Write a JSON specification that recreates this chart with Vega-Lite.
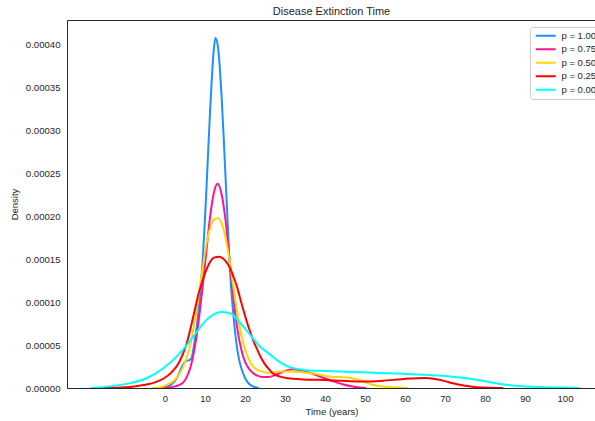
{
  "$schema": "https://vega.github.io/schema/vega-lite/v6.json",
  "autosize": {"type": "none"},
  "padding": {"left": 67, "top": 20, "right": -1, "bottom": 33},
  "width": 529,
  "height": 368,
  "background": "white",
  "config": {
    "font": "Liberation Sans",
    "view": {"stroke": "#262626", "strokeWidth": 1}
  },
  "title": {"text": "Disease Extinction Time", "fontSize": 11, "fontWeight": "normal", "color": "#262626", "offset": 3, "font": "Liberation Sans"},
  "data": {"values": [
    {"p": "p = 1.00", "t": -1.89, "d": 0},
    {"p": "p = 1.00", "t": -0.43, "d": 0.0000005},
    {"p": "p = 1.00", "t": 1.52, "d": 0.0000039},
    {"p": "p = 1.00", "t": 2.98, "d": 0.0000117},
    {"p": "p = 1.00", "t": 4.44, "d": 0.0000264},
    {"p": "p = 1.00", "t": 5.22, "d": 0.0000313},
    {"p": "p = 1.00", "t": 5.9, "d": 0.0000323},
    {"p": "p = 1.00", "t": 6.58, "d": 0.0000343},
    {"p": "p = 1.00", "t": 7.36, "d": 0.0000529},
    {"p": "p = 1.00", "t": 8.34, "d": 0.0000872},
    {"p": "p = 1.00", "t": 9.31, "d": 0.000141},
    {"p": "p = 1.00", "t": 10.28, "d": 0.000224},
    {"p": "p = 1.00", "t": 11.26, "d": 0.000322},
    {"p": "p = 1.00", "t": 12.23, "d": 0.000396},
    {"p": "p = 1.00", "t": 12.6, "d": 0.000408},
    {"p": "p = 1.00", "t": 13.2, "d": 0.000399},
    {"p": "p = 1.00", "t": 14.18, "d": 0.000337},
    {"p": "p = 1.00", "t": 14.66, "d": 0.000293},
    {"p": "p = 1.00", "t": 15.15, "d": 0.000244},
    {"p": "p = 1.00", "t": 15.64, "d": 0.000195},
    {"p": "p = 1.00", "t": 16.13, "d": 0.000146},
    {"p": "p = 1.00", "t": 16.61, "d": 0.000112},
    {"p": "p = 1.00", "t": 17.1, "d": 0.0000852},
    {"p": "p = 1.00", "t": 17.58, "d": 0.0000627},
    {"p": "p = 1.00", "t": 18.07, "d": 0.0000451},
    {"p": "p = 1.00", "t": 18.56, "d": 0.0000323},
    {"p": "p = 1.00", "t": 19.05, "d": 0.0000235},
    {"p": "p = 1.00", "t": 20.02, "d": 0.0000117},
    {"p": "p = 1.00", "t": 20.99, "d": 0.0000049},
    {"p": "p = 1.00", "t": 21.97, "d": 0.0000019},
    {"p": "p = 1.00", "t": 23.43, "d": 0},

    {"p": "p = 0.75", "t": -1.4, "d": 0},
    {"p": "p = 0.75", "t": 0.55, "d": 0.0000004},
    {"p": "p = 0.75", "t": 2.5, "d": 0.0000019},
    {"p": "p = 0.75", "t": 4.44, "d": 0.0000059},
    {"p": "p = 0.75", "t": 5.42, "d": 0.0000127},
    {"p": "p = 0.75", "t": 6.39, "d": 0.0000245},
    {"p": "p = 0.75", "t": 7.36, "d": 0.0000451},
    {"p": "p = 0.75", "t": 8.34, "d": 0.0000754},
    {"p": "p = 0.75", "t": 9.31, "d": 0.000114},
    {"p": "p = 0.75", "t": 10.28, "d": 0.000157},
    {"p": "p = 0.75", "t": 11.26, "d": 0.000199},
    {"p": "p = 0.75", "t": 12.23, "d": 0.000228},
    {"p": "p = 0.75", "t": 13.2, "d": 0.000238},
    {"p": "p = 0.75", "t": 14.18, "d": 0.000225},
    {"p": "p = 0.75", "t": 15.15, "d": 0.000195},
    {"p": "p = 0.75", "t": 16.13, "d": 0.000151},
    {"p": "p = 0.75", "t": 17.1, "d": 0.000105},
    {"p": "p = 0.75", "t": 18.07, "d": 0.0000696},
    {"p": "p = 0.75", "t": 19.05, "d": 0.0000451},
    {"p": "p = 0.75", "t": 20.02, "d": 0.0000304},
    {"p": "p = 0.75", "t": 20.99, "d": 0.0000225},
    {"p": "p = 0.75", "t": 21.97, "d": 0.0000176},
    {"p": "p = 0.75", "t": 22.94, "d": 0.0000147},
    {"p": "p = 0.75", "t": 24.4, "d": 0.0000127},
    {"p": "p = 0.75", "t": 25.86, "d": 0.0000127},
    {"p": "p = 0.75", "t": 27.81, "d": 0.0000157},
    {"p": "p = 0.75", "t": 29.75, "d": 0.0000196},
    {"p": "p = 0.75", "t": 31.9, "d": 0.000022},
    {"p": "p = 0.75", "t": 33.65, "d": 0.000021},
    {"p": "p = 0.75", "t": 35.59, "d": 0.0000186},
    {"p": "p = 0.75", "t": 38.52, "d": 0.0000137},
    {"p": "p = 0.75", "t": 41.44, "d": 0.0000088},
    {"p": "p = 0.75", "t": 44.36, "d": 0.0000044},
    {"p": "p = 0.75", "t": 47.28, "d": 0.0000015},
    {"p": "p = 0.75", "t": 50.25, "d": 0},

    {"p": "p = 0.50", "t": -3.35, "d": 0},
    {"p": "p = 0.50", "t": -1.4, "d": 0.0000005},
    {"p": "p = 0.50", "t": 0.55, "d": 0.0000039},
    {"p": "p = 0.50", "t": 2.5, "d": 0.0000098},
    {"p": "p = 0.50", "t": 4.44, "d": 0.0000235},
    {"p": "p = 0.50", "t": 5.42, "d": 0.0000353},
    {"p": "p = 0.50", "t": 6.39, "d": 0.0000519},
    {"p": "p = 0.50", "t": 7.36, "d": 0.0000754},
    {"p": "p = 0.50", "t": 8.34, "d": 0.000105},
    {"p": "p = 0.50", "t": 9.31, "d": 0.000136},
    {"p": "p = 0.50", "t": 10.28, "d": 0.000166},
    {"p": "p = 0.50", "t": 11.26, "d": 0.000186},
    {"p": "p = 0.50", "t": 12.23, "d": 0.000196},
    {"p": "p = 0.50", "t": 13.2, "d": 0.000198},
    {"p": "p = 0.50", "t": 14.18, "d": 0.000192},
    {"p": "p = 0.50", "t": 15.15, "d": 0.000175},
    {"p": "p = 0.50", "t": 16.13, "d": 0.000149},
    {"p": "p = 0.50", "t": 17.1, "d": 0.000118},
    {"p": "p = 0.50", "t": 18.07, "d": 0.0000872},
    {"p": "p = 0.50", "t": 19.05, "d": 0.0000627},
    {"p": "p = 0.50", "t": 20.02, "d": 0.0000451},
    {"p": "p = 0.50", "t": 20.99, "d": 0.0000333},
    {"p": "p = 0.50", "t": 21.97, "d": 0.0000255},
    {"p": "p = 0.50", "t": 23.91, "d": 0.0000196},
    {"p": "p = 0.50", "t": 25.86, "d": 0.0000176},
    {"p": "p = 0.50", "t": 28.78, "d": 0.0000191},
    {"p": "p = 0.50", "t": 31.7, "d": 0.0000191},
    {"p": "p = 0.50", "t": 34.62, "d": 0.0000181},
    {"p": "p = 0.50", "t": 37.54, "d": 0.0000166},
    {"p": "p = 0.50", "t": 40.46, "d": 0.0000137},
    {"p": "p = 0.50", "t": 43.38, "d": 0.0000127},
    {"p": "p = 0.50", "t": 46.3, "d": 0.0000117},
    {"p": "p = 0.50", "t": 48.25, "d": 0.0000098},
    {"p": "p = 0.50", "t": 50.2, "d": 0.0000064},
    {"p": "p = 0.50", "t": 52.14, "d": 0.0000034},
    {"p": "p = 0.50", "t": 55.06, "d": 0.0000015},
    {"p": "p = 0.50", "t": 58, "d": 0.0000005},
    {"p": "p = 0.50", "t": 60.7, "d": 0},

    {"p": "p = 0.25", "t": -16.97, "d": 0},
    {"p": "p = 0.25", "t": -12.11, "d": 0.0000004},
    {"p": "p = 0.25", "t": -8.21, "d": 0.0000015},
    {"p": "p = 0.25", "t": -5.29, "d": 0.0000034},
    {"p": "p = 0.25", "t": -2.37, "d": 0.0000068},
    {"p": "p = 0.25", "t": -0.43, "d": 0.0000108},
    {"p": "p = 0.25", "t": 1.52, "d": 0.0000176},
    {"p": "p = 0.25", "t": 3.47, "d": 0.0000294},
    {"p": "p = 0.25", "t": 5.42, "d": 0.0000519},
    {"p": "p = 0.25", "t": 7.36, "d": 0.0000892},
    {"p": "p = 0.25", "t": 8.34, "d": 0.000109},
    {"p": "p = 0.25", "t": 9.31, "d": 0.000124},
    {"p": "p = 0.25", "t": 10.28, "d": 0.000137},
    {"p": "p = 0.25", "t": 11.26, "d": 0.000147},
    {"p": "p = 0.25", "t": 12.23, "d": 0.000152},
    {"p": "p = 0.25", "t": 13.54, "d": 0.000153},
    {"p": "p = 0.25", "t": 14.18, "d": 0.000152},
    {"p": "p = 0.25", "t": 15.15, "d": 0.000148},
    {"p": "p = 0.25", "t": 16.13, "d": 0.000141},
    {"p": "p = 0.25", "t": 17.1, "d": 0.00013},
    {"p": "p = 0.25", "t": 18.07, "d": 0.000117},
    {"p": "p = 0.25", "t": 19.05, "d": 0.0001},
    {"p": "p = 0.25", "t": 20.02, "d": 0.0000843},
    {"p": "p = 0.25", "t": 20.99, "d": 0.0000696},
    {"p": "p = 0.25", "t": 21.97, "d": 0.0000568},
    {"p": "p = 0.25", "t": 22.94, "d": 0.000046},
    {"p": "p = 0.25", "t": 23.91, "d": 0.0000362},
    {"p": "p = 0.25", "t": 24.89, "d": 0.0000284},
    {"p": "p = 0.25", "t": 25.86, "d": 0.0000225},
    {"p": "p = 0.25", "t": 26.83, "d": 0.0000176},
    {"p": "p = 0.25", "t": 28.78, "d": 0.0000132},
    {"p": "p = 0.25", "t": 30.73, "d": 0.0000113},
    {"p": "p = 0.25", "t": 34.62, "d": 0.00001},
    {"p": "p = 0.25", "t": 38.51, "d": 0.0000095},
    {"p": "p = 0.25", "t": 42.41, "d": 0.0000088},
    {"p": "p = 0.25", "t": 46.3, "d": 0.0000078},
    {"p": "p = 0.25", "t": 50.2, "d": 0.0000075},
    {"p": "p = 0.25", "t": 54.09, "d": 0.0000083},
    {"p": "p = 0.25", "t": 57.98, "d": 0.0000098},
    {"p": "p = 0.25", "t": 61, "d": 0.0000111},
    {"p": "p = 0.25", "t": 63, "d": 0.0000115},
    {"p": "p = 0.25", "t": 65, "d": 0.0000117},
    {"p": "p = 0.25", "t": 67.5, "d": 0.0000105},
    {"p": "p = 0.25", "t": 70, "d": 0.000008},
    {"p": "p = 0.25", "t": 72, "d": 0.0000055},
    {"p": "p = 0.25", "t": 74, "d": 0.0000035},
    {"p": "p = 0.25", "t": 76, "d": 0.000002},
    {"p": "p = 0.25", "t": 78, "d": 0.000001},
    {"p": "p = 0.25", "t": 81, "d": 0.0000003},
    {"p": "p = 0.25", "t": 84.5, "d": 0},

    {"p": "p = 0.00", "t": -18.75, "d": 0},
    {"p": "p = 0.00", "t": -14.05, "d": 0.0000019},
    {"p": "p = 0.00", "t": -8.7, "d": 0.0000057},
    {"p": "p = 0.00", "t": -4.61, "d": 0.0000114},
    {"p": "p = 0.00", "t": -0.43, "d": 0.0000231},
    {"p": "p = 0.00", "t": 3.76, "d": 0.0000407},
    {"p": "p = 0.00", "t": 7.07, "d": 0.0000598},
    {"p": "p = 0.00", "t": 10.38, "d": 0.0000794},
    {"p": "p = 0.00", "t": 14, "d": 0.0000886},
    {"p": "p = 0.00", "t": 16.22, "d": 0.0000872},
    {"p": "p = 0.00", "t": 18.75, "d": 0.000076},
    {"p": "p = 0.00", "t": 21.28, "d": 0.000062},
    {"p": "p = 0.00", "t": 23.72, "d": 0.0000484},
    {"p": "p = 0.00", "t": 26.25, "d": 0.0000392},
    {"p": "p = 0.00", "t": 28.78, "d": 0.0000299},
    {"p": "p = 0.00", "t": 31.21, "d": 0.0000243},
    {"p": "p = 0.00", "t": 34.62, "d": 0.0000211},
    {"p": "p = 0.00", "t": 38.52, "d": 0.00002},
    {"p": "p = 0.00", "t": 43.38, "d": 0.0000192},
    {"p": "p = 0.00", "t": 51.17, "d": 0.000018},
    {"p": "p = 0.00", "t": 59.54, "d": 0.0000165},
    {"p": "p = 0.00", "t": 67.91, "d": 0.0000145},
    {"p": "p = 0.00", "t": 71.61, "d": 0.0000132},
    {"p": "p = 0.00", "t": 76.29, "d": 0.0000108},
    {"p": "p = 0.00", "t": 80.38, "d": 0.0000075},
    {"p": "p = 0.00", "t": 84.27, "d": 0.0000044},
    {"p": "p = 0.00", "t": 88.16, "d": 0.0000024},
    {"p": "p = 0.00", "t": 93, "d": 0.0000011},
    {"p": "p = 0.00", "t": 98, "d": 0.0000005},
    {"p": "p = 0.00", "t": 101, "d": 0.0000002},
    {"p": "p = 0.00", "t": 103.75, "d": 0}
  ]},
  "mark": {"type": "line", "strokeWidth": 2, "interpolate": "monotone", "clip": true},
  "encoding": {
    "x": {"field": "t", "type": "quantitative", "title": "Time (years)",
      "scale": {"domain": [-24.5, 107.75], "nice": false, "zero": false},
      "axis": {"values": [0, 10, 20, 30, 40, 50, 60, 70, 80, 90, 100], "grid": false, "domain": false, "ticks": false,
        "labelFontSize": 9.5, "labelColor": "#262626", "labelPadding": 5, "titleFontSize": 9.5, "titleFontWeight": "normal", "titleColor": "#262626", "titlePadding": 4}},
    "y": {"field": "d", "type": "quantitative", "title": "Density",
      "scale": {"domain": [0, 0.000429], "nice": false},
      "axis": {"values": [0, 0.00005, 0.0001, 0.00015, 0.0002, 0.00025, 0.0003, 0.00035, 0.0004], "format": ".5f", "grid": false, "domain": false, "ticks": false,
        "labelFontSize": 9.6, "labelColor": "#262626", "labelPadding": 7, "titleFontSize": 9.5, "titleFontWeight": "normal", "titleColor": "#262626", "titlePadding": 6}},
    "color": {"field": "p", "type": "nominal",
      "scale": {"domain": ["p = 1.00", "p = 0.75", "p = 0.50", "p = 0.25", "p = 0.00"], "range": ["#1E90FF", "#FF1493", "#FFD700", "#FF0000", "#00FFFF"]},
      "legend": {"title": null, "orient": "none", "legendX": 463, "legendY": 7, "symbolType": "M-5,0H5", "symbolSize": 16, "symbolStrokeWidth": 2, "symbolOffset": 7,
        "labelFontSize": 9.5, "labelColor": "#262626", "labelOffset": 11, "rowPadding": 2.5, "padding": 4, "strokeColor": "#cccccc", "fillColor": "white", "cornerRadius": 3}},
    "order": {"field": "t", "type": "quantitative"}
  }
}
